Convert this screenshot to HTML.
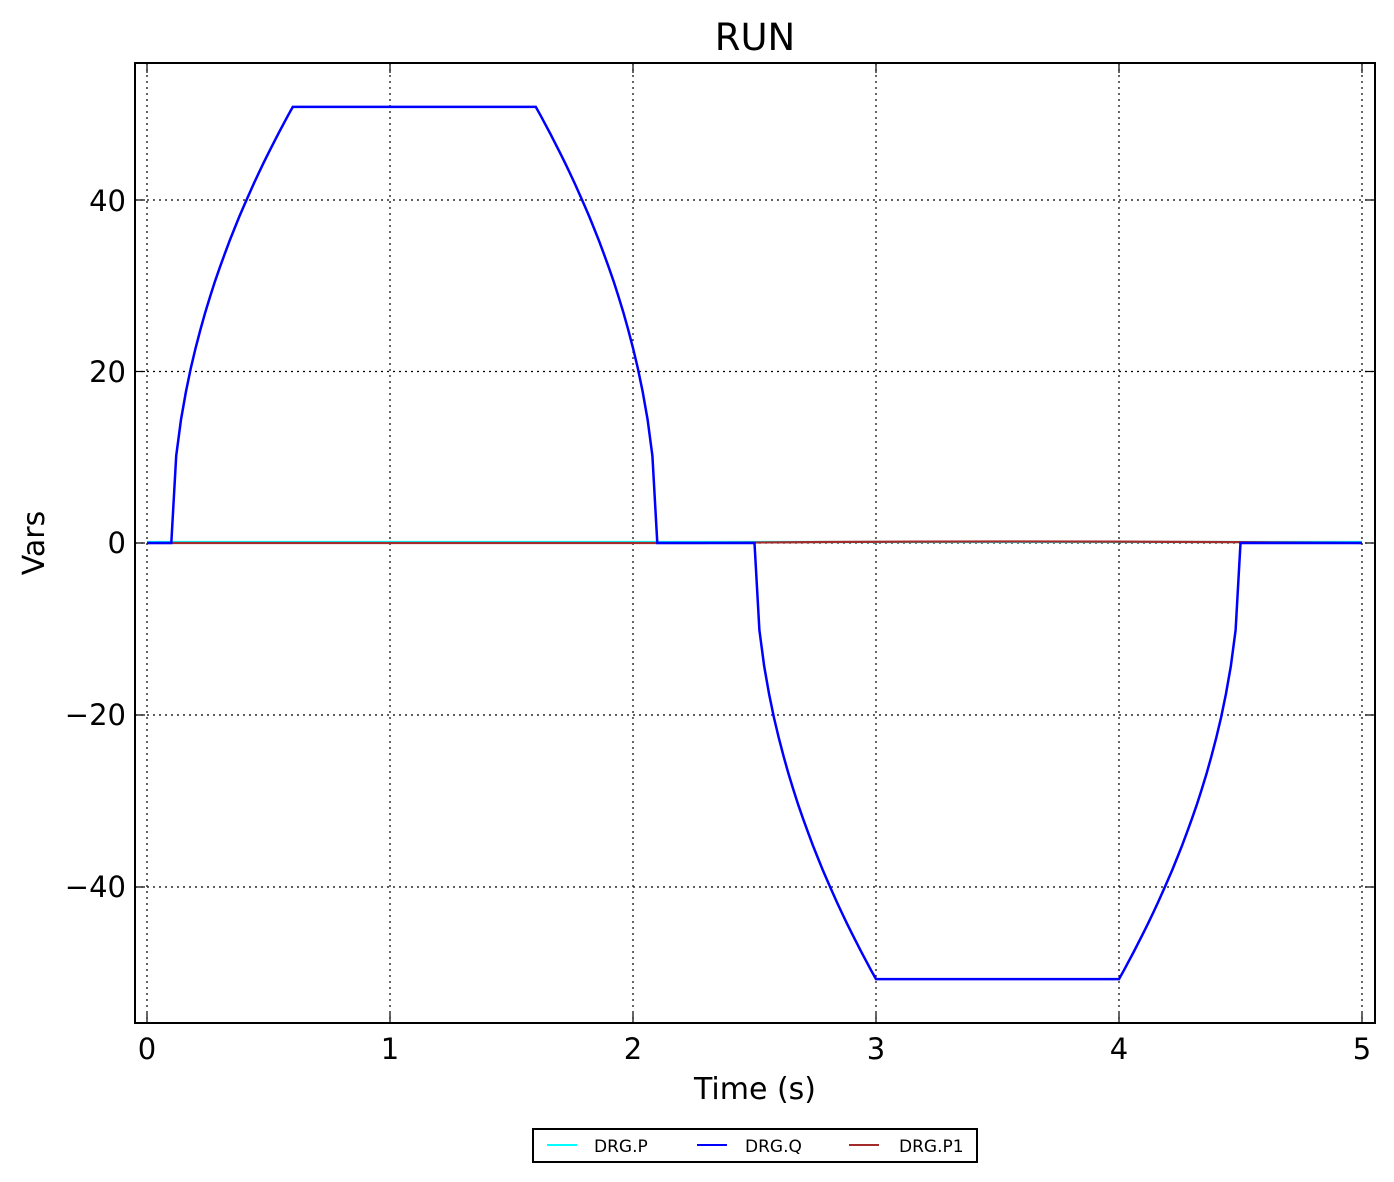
<!DOCTYPE html>
<html><head><meta charset="utf-8"><style>
html,body{margin:0;padding:0;background:#fff;}
svg{display:block;font-family:"DejaVu Sans","Liberation Sans",sans-serif;}
</style></head><body>
<svg id="s" width="1394" height="1182" viewBox="0 0 1394 1182" xmlns="http://www.w3.org/2000/svg">
<rect width="1394" height="1182" fill="#fff"/>
<g stroke="#000" stroke-width="1.2" stroke-dasharray="2,4" fill="none">
<line x1="147" y1="63" x2="147" y2="1023"/>
<line x1="390" y1="63" x2="390" y2="1023"/>
<line x1="633" y1="63" x2="633" y2="1023"/>
<line x1="876" y1="63" x2="876" y2="1023"/>
<line x1="1119" y1="63" x2="1119" y2="1023"/>
<line x1="1362" y1="63" x2="1362" y2="1023"/>
<line x1="135" y1="200" x2="1375" y2="200"/>
<line x1="135" y1="371.5" x2="1375" y2="371.5"/>
<line x1="135" y1="543" x2="1375" y2="543"/>
<line x1="135" y1="715" x2="1375" y2="715"/>
<line x1="135" y1="887" x2="1375" y2="887"/>
</g>
<g id="ticks" stroke="#000" stroke-width="1.2"></g>
<line x1="147" y1="542" x2="1362" y2="542" stroke="#00ffff" stroke-width="2.2"/>
<path d="M147,543 L700,543 Q1000,540 1362,543" stroke="#a52a2a" stroke-width="2.2" fill="none"/>
<path id="q" stroke="#0000ff" stroke-width="2.5" fill="none"/>
<rect x="135" y="63" width="1240" height="960" fill="none" stroke="#000" stroke-width="2"/>
<g font-size="29" fill="#000" text-anchor="middle">
<text x="147" y="1059">0</text><text x="390" y="1059">1</text><text x="633" y="1059">2</text>
<text x="876" y="1059">3</text><text x="1119" y="1059">4</text><text x="1362" y="1059">5</text>
</g>
<g font-size="29" fill="#000" text-anchor="end">
<text x="126" y="211">40</text><text x="126" y="382">20</text><text x="126" y="553">0</text>
<text x="126" y="725">−20</text><text x="126" y="897">−40</text>
</g>
<text x="755" y="1099" font-size="30" text-anchor="middle">Time (s)</text>
<text x="44" y="543" font-size="30" text-anchor="middle" transform="rotate(-90 44 543)">Vars</text>
<text x="755" y="50" font-size="37" text-anchor="middle">RUN</text>
<rect x="533" y="1129" width="444" height="33" fill="#fff" stroke="#000" stroke-width="2"/>
<line x1="547" y1="1145" x2="577" y2="1145" stroke="#00ffff" stroke-width="2"/>
<text x="594" y="1152" font-size="17">DRG.P</text>
<line x1="697" y1="1145" x2="727" y2="1145" stroke="#0000ff" stroke-width="2"/>
<text x="745" y="1152" font-size="17">DRG.Q</text>
<line x1="849" y1="1145" x2="879" y2="1145" stroke="#a52a2a" stroke-width="2"/>
<text x="899" y="1152" font-size="17">DRG.P1</text>
</svg>
<script>
function X(t){return 147+243*t;}function Y(v){return 543-8.585*v;}
var A=50.8;
function f(t){
 if(t<0.1)return 0;
 if(t<=0.6)return A*Math.sqrt((t-0.1)/0.5);
 if(t<=1.6)return A;
 if(t<=2.1)return A*Math.sqrt(Math.max(0,2.1-t)/0.5);
 if(t<2.5)return 0;
 if(t<=3.0)return -A*Math.sqrt((t-2.5)/0.5);
 if(t<=4.0)return -A;
 if(t<=4.5)return -A*Math.sqrt(Math.max(0,4.5-t)/0.5);
 return 0;}
var ts=[0,0.1];
for(var t=0.1;t<=5.0001;t+=0.02)ts.push(+t.toFixed(4));
ts.push(5);
var d="M"+X(0)+","+Y(0)+" L"+X(0.1)+","+Y(0);
ts.forEach(function(t,i){if(i>1)d+=" L"+X(t).toFixed(1)+","+Y(f(t)).toFixed(1);});
document.getElementById("q").setAttribute("d",d);
var g=document.getElementById("ticks"),h="";
[147,390,633,876,1119,1362].forEach(function(x){h+='<line x1="'+x+'" y1="1023" x2="'+x+'" y2="1013"/><line x1="'+x+'" y1="63" x2="'+x+'" y2="73"/>';});
[200,371.5,543,715,887].forEach(function(y){h+='<line x1="135" y1="'+y+'" x2="145" y2="'+y+'"/><line x1="1375" y1="'+y+'" x2="1365" y2="'+y+'"/>';});
g.innerHTML=h;
</script>
</body></html>
